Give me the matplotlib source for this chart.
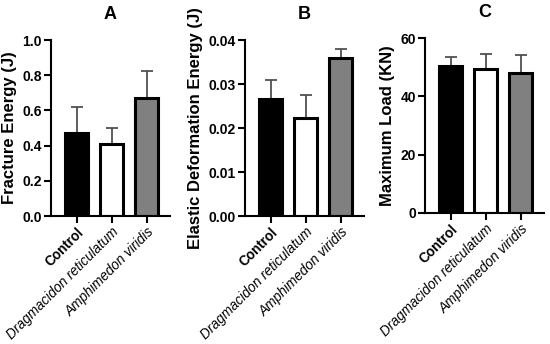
import matplotlib.pyplot as plt

plt.rcParams['font.family'] = ['Liberation Sans', 'DejaVu Sans']

groups = ['Control', 'Dragmacidon reticulatum', 'Amphimedon viridis']
bar_colors = ['black', 'white', '#808080']

# panel A: fracture energy
fracture_mean = [0.47, 0.41, 0.67]
fracture_err = [0.15, 0.09, 0.155]
# panel B: elastic deformation energy
elastic_mean = [0.0265, 0.0223, 0.0358]
elastic_err = [0.0043, 0.0051, 0.0021]
# panel C: maximum load
load_mean = [50.4, 49.3, 47.9]
load_err = [3.2, 5.2, 6.2]

panels = [
    ('A', 'Fracture Energy (J)', fracture_mean, fracture_err, (0, 1.0), [0, 0.2, 0.4, 0.6, 0.8, 1.0], '{:.1f}', 51, 40, 216),
    ('B', 'Elastic Deformation Energy (J)', elastic_mean, elastic_err, (0, 0.04), [0, 0.01, 0.02, 0.03, 0.04], '{:.2f}', 245, 40, 216),
    ('C', 'Maximum Load (KN)', load_mean, load_err, (0, 60), [0, 20, 40, 60], '{:.0f}', 425, 38, 213),
]

W, H = 550, 344
fig = plt.figure(figsize=(5.5, 3.44), dpi=100)

x = [0, 1, 2]
xlim = (-0.74, 2.66)
step = 35  # pixels between bars

for title, ylabel, mean, err, ylim, ticks, fmt, left, top, bottom in panels:
    width = (xlim[1] - xlim[0]) * step
    ax = fig.add_axes([left / W, 1 - bottom / H, width / W, (bottom - top) / H])
    ax.bar(x, mean, width=0.66, color=bar_colors, edgecolor='black', linewidth=2.2, zorder=2)
    ax.errorbar(x, mean, yerr=[[0, 0, 0], err], fmt='none', ecolor='#505050',
                elinewidth=1.3, capsize=4.3, capthick=1.3, zorder=1)
    ax.set_xlim(*xlim)
    ax.set_ylim(*ylim)
    ax.set_yticks(ticks)
    ax.set_yticklabels([fmt.format(t) for t in ticks], fontweight='bold', fontsize=10)
    ax.set_xticks(x)
    labels = ax.set_xticklabels(groups, rotation=45, ha='right', rotation_mode='anchor', fontsize=9.8)
    labels[0].set_fontweight('bold')
    labels[1].set_style('italic')
    labels[2].set_style('italic')
    ax.set_ylabel(ylabel, fontweight='bold', fontsize=12, labelpad=4)
    ax.set_title(title, fontweight='bold', fontsize=13, pad=15)
    for s in ['top', 'right']:
        ax.spines[s].set_visible(False)
    for s in ['left', 'bottom']:
        ax.spines[s].set_linewidth(1.5)
    ax.tick_params(axis='both', length=5, width=1.5, pad=1.5)

fig.savefig('out.png', dpi=100)
